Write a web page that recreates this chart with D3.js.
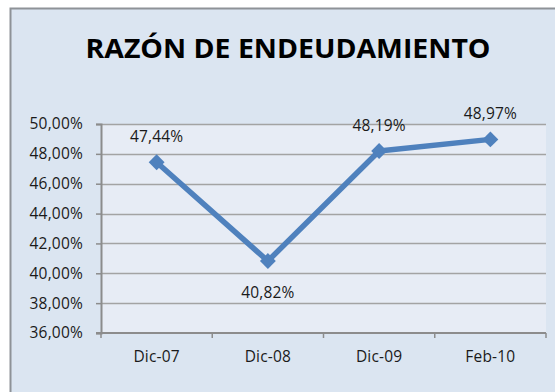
<!DOCTYPE html>
<html>
<head>
<meta charset="utf-8">
<script src="https://cdn.jsdelivr.net/npm/d3@7/dist/d3.min.js"></script>
<style>
  html, body { margin: 0; padding: 0; background: #ffffff; }
  svg { display: block; }
  text { font-family: "Open Sans", "DejaVu Sans", sans-serif; }
</style>
</head>
<body>
<script>
// Debt ratio by period
const categories = ["Dic-07", "Dic-08", "Dic-09", "Feb-10"];
const ratios = [47.44, 40.82, 48.19, 48.97];
const labelPlacement = ["above", "below", "above", "above"];
const yTicks = [36, 38, 40, 42, 44, 46, 48, 50];
const chartTitle = "RAZÓN DE ENDEUDAMIENTO";

const W = 555, H = 392;
const margin = { left: 101, right: 9, top: 124, bottom: 59 };
const labelFont = "15.5px";
const labelSpacing = "0.2px";

const svg = d3.select("body").append("svg")
  .attr("width", W).attr("height", H);

// Chart frame
svg.append("rect")
  .attr("x", 10.5).attr("y", 8.5)
  .attr("width", W).attr("height", H)
  .attr("fill", "#dbe5f1")
  .attr("stroke", "#8e9297").attr("stroke-width", 2);

const x = d3.scaleBand().domain(categories)
  .range([margin.left, W - margin.right]).padding(0);
const y = d3.scaleLinear().domain([36, 50])
  .range([H - margin.bottom, margin.top]);

// Plot area
svg.append("rect")
  .attr("x", margin.left).attr("y", margin.top)
  .attr("width", W - margin.right - margin.left)
  .attr("height", H - margin.bottom - margin.top)
  .attr("fill", "#e7ecf5");

const fmt = v => d3.format(".2f")(v).replace(".", ",") + "%";

// Gridlines
svg.append("g").selectAll("line")
  .data(yTicks.slice(1))
  .join("line")
  .attr("x1", margin.left).attr("x2", W - margin.right)
  .attr("y1", d => Math.round(y(d)) + 0.5).attr("y2", d => Math.round(y(d)) + 0.5)
  .attr("stroke", "#a3a3a3").attr("stroke-width", 1.5);

// Y axis
const yAxis = svg.append("g")
  .attr("transform", `translate(${margin.left},0)`)
  .call(d3.axisLeft(y).tickValues(yTicks).tickFormat(fmt).tickSize(5).tickPadding(13));
yAxis.select(".domain").attr("stroke", "#8c8c8c").attr("stroke-width", 2);
yAxis.selectAll(".tick line").attr("stroke", "#8c8c8c").attr("stroke-width", 1.5);
yAxis.selectAll(".tick text")
  .attr("fill", "#1a1a1a").style("font-size", labelFont)
  .style("letter-spacing", labelSpacing)
  .style("font-family", "'Open Sans', sans-serif");

// X axis with ticks between categories
const xAxisG = svg.append("g")
  .attr("transform", `translate(0,${H - margin.bottom})`);
xAxisG.append("line")
  .attr("x1", margin.left - 5).attr("x2", W - margin.right)
  .attr("stroke", "#8c8c8c").attr("stroke-width", 2);
const bounds = categories.map(c => x(c)).concat([x(categories[categories.length - 1]) + x.bandwidth()]);
xAxisG.selectAll("line.tick")
  .data(bounds)
  .join("line").attr("class", "tick")
  .attr("x1", d => d).attr("x2", d => d)
  .attr("y1", 0).attr("y2", 5)
  .attr("stroke", "#8c8c8c").attr("stroke-width", 1.5);
xAxisG.selectAll("text")
  .data(categories)
  .join("text")
  .attr("x", d => x(d) + x.bandwidth() / 2)
  .attr("y", 29)
  .attr("text-anchor", "middle")
  .attr("fill", "#1a1a1a")
  .style("font-size", labelFont)
  .style("letter-spacing", labelSpacing)
  .text(d => d);

// Series line
const pts = categories.map((c, i) => ({ c, v: ratios[i], pos: labelPlacement[i] }));
const cx = d => x(d.c) + x.bandwidth() / 2;

svg.append("path")
  .datum(pts)
  .attr("fill", "none")
  .attr("stroke", "#4f81bd")
  .attr("stroke-width", 5.5)
  .attr("stroke-linejoin", "round")
  .attr("d", d3.line().x(cx).y(d => y(d.v)));

// Diamond markers
svg.append("g").selectAll("path")
  .data(pts)
  .join("path")
  .attr("transform", d => `translate(${cx(d)},${y(d.v)})`)
  .attr("d", d3.symbol().type(d3.symbolDiamond2).size(160))
  .attr("fill", "#4f81bd");

// Value labels
svg.append("g").selectAll("text")
  .data(pts)
  .join("text")
  .attr("x", cx)
  .attr("y", d => d.pos === "above" ? y(d.v) - 20 : y(d.v) + 37)
  .attr("text-anchor", "middle")
  .attr("fill", "#1a1a1a")
  .style("font-size", labelFont)
  .style("letter-spacing", labelSpacing)
  .text(d => fmt(d.v));

// Title
svg.append("text")
  .attr("x", 288).attr("y", 58)
  .attr("text-anchor", "middle")
  .attr("fill", "#000000")
  .style("font-size", "27px")
  .style("font-weight", "bold")
  .style("font-family", "'Open Sans', sans-serif")
  .attr("textLength", 405)
  .attr("lengthAdjust", "spacingAndGlyphs")
  .text(chartTitle);
</script>
</body>
</html>
